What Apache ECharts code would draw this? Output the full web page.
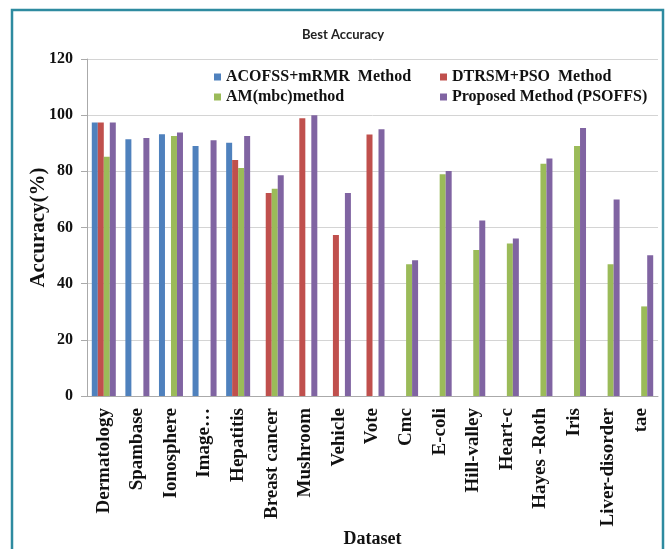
<!DOCTYPE html>
<html><head><meta charset="utf-8">
<script src="https://cdn.jsdelivr.net/npm/echarts@6/dist/echarts.min.js"></script>
<style>html,body{margin:0;padding:0;background:#fff}#c{width:671px;height:549px}</style>
</head><body><div id="c"></div>
<script>
var categories = ['Dermatology','Spambase','Ionosphere','Image…','Hepatitis','Breast cancer','Mushroom','Vehicle','Vote','Cmc','E-coli','Hill-valley','Heart-c','Hayes -Roth','Iris','Liver-disorder','tae'];
var seriesNames = ['ACOFSS+mRMR  Method','DTRSM+PSO  Method','AM(mbc)method','Proposed Method (PSOFFS)'];
var acofss   = [97.4, 91.4, 93.2, 89.0, 90.2, null, null, null, null, null, null, null, null, null, null, null, null];
var dtrsm    = [97.4, null, null, null, 84.0, 72.3, 98.9, 57.3, 93.1, null, null, null, null, null, null, null, null];
var ammbc    = [85.2, null, 92.6, null, 81.2, 73.8, null, null, null, 46.9, 79.0, 52.0, 54.3, 82.7, 89.0, 46.9, 31.9];
var proposed = [97.4, 91.9, 93.8, 91.1, 92.6, 78.6, 100, 72.3, 95.0, 48.3, 80.1, 62.5, 56.1, 84.6, 95.4, 70.0, 50.1];
var yTicks = [0, 20, 40, 60, 80, 100, 120];

var colors = ['#4f81bd','#c0504d','#9bbb59','#8064a2'];
var serif = '"Liberation Serif", "DejaVu Serif", serif';
var chart = echarts.init(document.getElementById('c'));
var values = [acofss, dtrsm, ammbc, proposed];
var legendText = {fontFamily: serif, fontWeight: 'bold', fontSize: 16, color: '#111'};
chart.setOption({
  animation: false,
  color: colors,
  title: {text: 'Best Accuracy', left: 338, top: 23, textAlign: 'center',
    textStyle: {fontFamily: 'Lato, "Liberation Sans", sans-serif', fontWeight: 'bold', fontSize: 13, color: '#222'}},
  legend: [
    {data: [seriesNames[0], seriesNames[2]], orient: 'vertical', left: 214, top: 69, itemWidth: 7, itemHeight: 7, itemGap: 4, textStyle: legendText, icon: 'rect', padding: 0},
    {data: [seriesNames[1], seriesNames[3]], orient: 'vertical', left: 440, top: 69, itemWidth: 7, itemHeight: 7, itemGap: 4, textStyle: legendText, icon: 'rect', padding: 0}
  ],
  graphic: [{type: 'rect', shape: {x: 12, y: 10, width: 651, height: 560}, style: {fill: 'none', stroke: '#2e8ba0', lineWidth: 2.5}, silent: true}],
  grid: {left: 87, right: 13, top: 59, bottom: 153, containLabel: false, outerBoundsMode: 'none'},
  xAxis: {
    type: 'category', data: categories,
    name: 'Dataset', nameLocation: 'middle', nameGap: 134, nameMoveOverlap: false,
    nameTextStyle: {fontFamily: serif, fontWeight: 'bold', fontSize: 18, color: '#111'},
    axisLine: {lineStyle: {color: '#aaa'}},
    axisTick: {show: false},
    axisLabel: {rotate: 90, margin: 12, interval: 0, fontFamily: serif, fontWeight: 'bold', fontSize: 19, color: '#111'}
  },
  yAxis: {
    type: 'value', min: 0, max: 120, interval: 20,
    name: 'Accuracy(%)', nameLocation: 'middle', nameGap: 38, nameMoveOverlap: false,
    nameTextStyle: {fontFamily: serif, fontWeight: 'bold', fontSize: 21, color: '#111'},
    axisLine: {show: true, lineStyle: {color: '#aaa'}},
    axisTick: {show: true, length: 6, lineStyle: {color: '#aaa'}},
    splitLine: {lineStyle: {color: '#d4d4d4'}},
    axisLabel: {margin: 14, fontFamily: serif, fontWeight: 'bold', fontSize: 16, color: '#111',
      formatter: function (v) { return yTicks.indexOf(v) >= 0 ? String(v) : ''; }}
  },
  series: values.map(function (d, i) {
    return {name: seriesNames[i], type: 'bar', data: d, barWidth: 6, barGap: '0%'};
  })
});
</script></body></html>
